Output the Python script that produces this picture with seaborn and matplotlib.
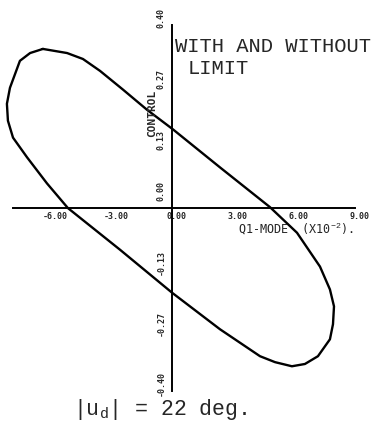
import matplotlib
matplotlib.use("Agg")
import matplotlib.pyplot as plt
import matplotlib.transforms as mtransforms
import seaborn as sns
import pandas as pd

# Closed trajectory: Q1-mode displacement (x10^-2) against control
q1_mode = [-6.35, -5.16, -4.38, -3.54, -2.41, -1.23, 0.05, 2.36, 4.82, 6.15,
           7.28, 7.77, 7.97, 7.92, 7.77, 7.18, 6.54, 5.90, 5.07, 4.33,
           2.36, 0.00, -2.56, -5.12, -6.15, -7.13, -7.82, -8.07, -8.12, -7.97,
           -7.48, -6.98, -6.35]
control = [0.348, 0.339, 0.326, 0.300, 0.259, 0.215, 0.172, 0.089, 0.002, -0.054,
           -0.128, -0.178, -0.215, -0.254, -0.287, -0.324, -0.341, -0.346, -0.337, -0.324,
           -0.265, -0.185, -0.091, 0.000, 0.054, 0.111, 0.154, 0.191, 0.228, 0.263,
           0.322, 0.339, 0.348]

x_ticks = [-6.0, -3.0, 0.0, 3.0, 6.0, 9.0]
x_tick_labels = ["-6.00", "-3.00", "0.00", "3.00", "6.00", "9.00"]
y_ticks = [-0.4, -0.2667, -0.1333, 0.0, 0.1333, 0.2667, 0.4]
y_tick_labels = ["-0.40", "-0.27", "-0.13", "0.00", "0.13", "0.27", "0.40"]

df = pd.DataFrame({"q1": q1_mode, "u": control})

sns.set_style("white")
plt.rcParams["mathtext.fontset"] = "custom"
plt.rcParams["mathtext.rm"] = "Liberation Mono"
plt.rcParams["mathtext.it"] = "Liberation Mono"

fig = plt.figure(figsize=(3.71, 4.28), dpi=100)
ax = fig.add_axes([0, 0, 1, 1])

sns.lineplot(data=df, x="q1", y="u", sort=False, estimator=None,
             color="black", linewidth=1.7, ax=ax)

ax.set_xlim(-8.46, 9.79)
ax.set_ylim(-0.481, 0.455)
ax.set_xlabel("")
ax.set_ylabel("")

# Axes crossing at the origin
for side in ("top", "right"):
    ax.spines[side].set_visible(False)
ax.spines["left"].set_position(("data", 0))
ax.spines["bottom"].set_position(("data", 0))
ax.spines["left"].set_bounds(-0.4, 0.4)
ax.spines["bottom"].set_bounds(-7.8, 9.0)
for side in ("left", "bottom"):
    ax.spines[side].set_linewidth(1.4)
    ax.spines[side].set_color("black")

tick_font = dict(family="DejaVu Sans Mono", weight="bold", size=6)
ax.set_xticks(x_ticks, x_tick_labels, **tick_font)
ax.set_yticks(y_ticks, y_tick_labels, rotation=90, va="center", **tick_font)
ax.tick_params(axis="both", direction="inout", length=3, width=1.2, color="black")
ax.tick_params(axis="x", pad=1)
ax.tick_params(axis="y", pad=3)

# Nudge tick labels off the crossing axes
for lab in ax.get_xticklabels():
    lab.set_transform(lab.get_transform() +
                      mtransforms.ScaledTranslation(5 / 100, 0, fig.dpi_scale_trans))
for lab, val in zip(ax.get_yticklabels(), y_ticks):
    dy = 17 if val == 0.0 else 7
    lab.set_transform(lab.get_transform() +
                      mtransforms.ScaledTranslation(0, dy / 100, fig.dpi_scale_trans))

W, H = 371, 428
fig.text(152 / W, 1 - 113 / H, "CONTROL", rotation=90, ha="center", va="center",
         family="DejaVu Sans Mono", weight="bold", size=8)
fig.text(238 / W, 1 - 229 / H, "Q1-MODE  (X10$^{-2}$).", ha="left", va="center",
         family="DejaVu Sans Mono", size=8.5)

fig.text(175 / W, 1 - 46 / H, "WITH AND WITHOUT", ha="left", va="center",
         family="Liberation Mono", size=14.8)
fig.text(188 / W, 1 - 68 / H, "LIMIT", ha="left", va="center",
         family="Liberation Mono", size=14.8)
fig.text(73 / W, 1 - 410 / H, r"|u$_{\mathrm{d}}$| = 22 deg.", ha="left", va="center",
         family="Liberation Mono", size=15.5)

fig.savefig("out.png", dpi=100, facecolor="white")
